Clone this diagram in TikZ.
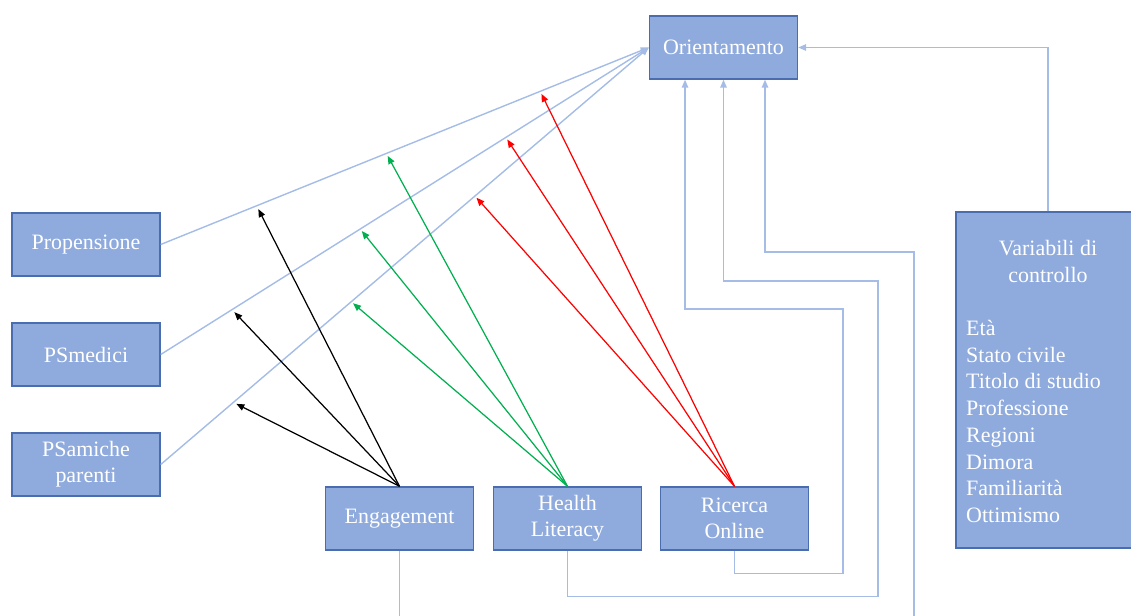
\documentclass[tikz,border=0pt]{standalone}
\usepackage{fontspec}
\setmainfont{Liberation Serif}
\usepackage{tikz}
\usetikzlibrary{positioning,arrows.meta,calc}
\definecolor{boxfill}{HTML}{8FAADC}
\definecolor{boxline}{HTML}{4A6DB0}
\definecolor{linkblue}{HTML}{A4BCE6}
\definecolor{effgreen}{HTML}{00B050}
\definecolor{effred}{HTML}{FF0000}
\begin{document}
\begin{tikzpicture}[x=0.02cm,y=-0.02cm,
box/.style={draw=boxline,fill=boxfill,text=white,line width=0.8pt,
    minimum width=2.96cm,minimum height=1.26cm,align=center,
    font=\fontsize{12.5}{15}\selectfont},
link/.style={draw=linkblue,line width=0.8pt,-{Triangle[length=1.6mm,width=1.3mm]}},
eff/.style={line width=0.7pt,-{Triangle[length=1.6mm,width=1.3mm]}}]
\useasboundingbox (0,0) rectangle (1131,615);
\clip (0,0) rectangle (1131,615);
% boxes
\node (ori) [box] at (723.5,47.5) {Orientamento};
\node (prop) [box] at (86,244.5) {Propensione};
\node (psmed) [box] at (86,354.5) {PSmedici};
\node (psam) [box] at (86,464.5) {PSamiche\\parenti};
\node (eng) [box] at (399.5,518.5) {Engagement};
\node (hl) [box] at (567.5,518.5) {Health\\Literacy};
\node (ric) [box] at (734.5,518.5) {Ricerca\\Online};
\node (ctrl) [box,minimum width=3.68cm,minimum height=6.72cm] at (1048,380) {};
\node (ctrltitle) [below=0.46cm of ctrl.north,align=center,text=white,
    font=\fontsize{12.5}{15.2}\selectfont] {Variabili di\\controllo};
\node (ctrllist) [anchor=north west,align=left,text=white,
    font=\fontsize{12.5}{15.2}\selectfont] at (960,314)
    {Età\\Stato civile\\Titolo di studio\\Professione\\Regioni\\Dimora\\Familiarità\\Ottimismo};
% links to Orientamento
\foreach \src in {prop,psmed,psam}
    \draw[link] (\src.east) -- (ori.west);
\draw[link] (ctrl.north) |- (ori.east);
\draw[link] (hl.south) -- ++(0,46) -| (878,281) -| (ori.south);
\draw[link] (ric.south) -- ++(0,23) -| (843,309) -| ([xshift=-0.77cm]ori.south);
\draw[link] (eng.south) -- (399.5,640) -| (914,252) -| ([xshift=0.83cm]ori.south);
% moderation points on the links
\foreach \src/\a/\b/\c in {prop/0.2/0.465/0.78,psmed/0.151/0.412/0.71,psam/0.155/0.394/0.647} {
    \coordinate (\src-e) at ($(\src.east)!\a!(ori.west)$);
    \coordinate (\src-h) at ($(\src.east)!\b!(ori.west)$);
    \coordinate (\src-r) at ($(\src.east)!\c!(ori.west)$);
}
\foreach \src in {prop,psmed,psam} {
    \draw[eff,black] (eng.north) -- ([yshift=-0.08cm]\src-e);
    \draw[eff,effgreen] (hl.north) -- ([yshift=-0.06cm]\src-h);
    \draw[eff,effred] (ric.north) -- ([yshift=-0.06cm]\src-r);
}
\end{tikzpicture}
\end{document}
